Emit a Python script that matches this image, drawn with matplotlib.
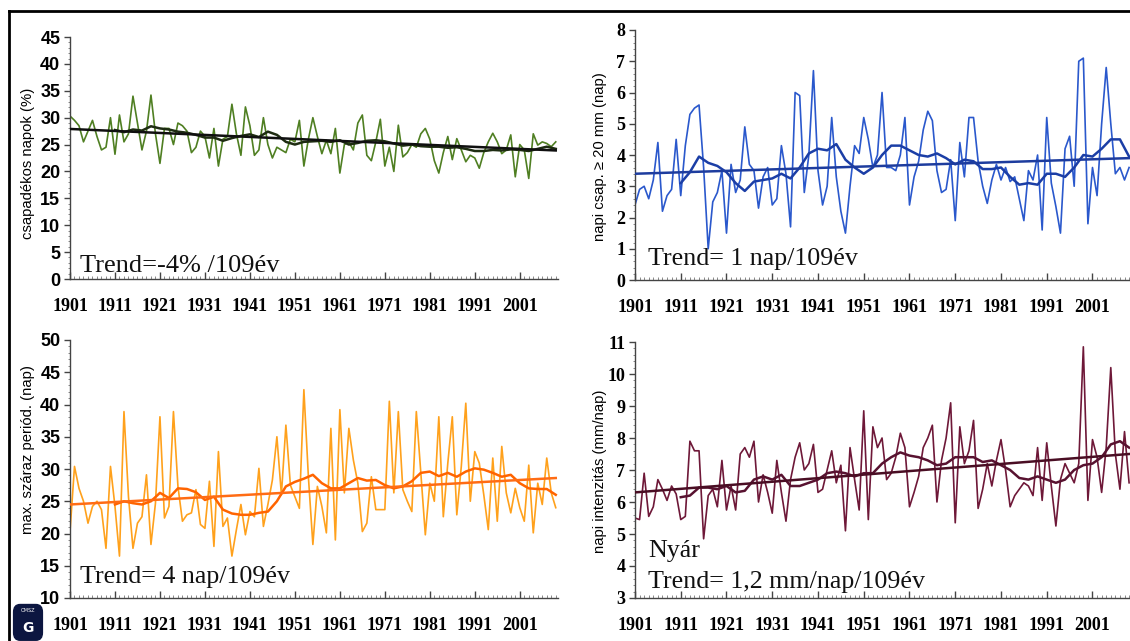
import numpy as np
import matplotlib
matplotlib.use("Agg")
import matplotlib.pyplot as plt
from matplotlib.lines import Line2D
from matplotlib.patches import FancyBboxPatch

years = list(range(1901, 2010))
smooth_years = list(range(1911, 2010, 2))

# csapadékos napok (%)
wet_days = [30.3, 29.5, 28.5, 25.5, 27.5, 29.5, 26.5, 24.0, 24.5, 30.0,
            23.2, 30.5, 25.5, 27.0, 34.0, 29.0, 24.0, 27.5, 34.2, 27.0,
            21.5, 28.0, 28.0, 25.0, 29.0, 28.5, 27.5, 23.5, 24.5, 27.5,
            26.5, 22.5, 28.0, 21.0, 26.0, 26.5, 32.5, 27.0, 23.0, 32.0,
            28.5, 23.0, 24.0, 30.0, 25.0, 22.5, 24.5, 24.0, 23.5, 26.0,
            25.5, 29.5, 21.0, 26.0, 30.0, 26.5, 23.3, 25.8, 23.3, 28.0,
            19.7, 25.0, 25.5, 24.0, 29.0, 30.5, 23.0, 22.0, 25.5, 29.7,
            21.0, 24.5, 20.0, 28.6, 22.7, 23.5, 25.0, 24.5, 27.0, 28.0,
            26.0, 22.0, 19.7, 23.5, 26.5, 22.2, 26.1, 24.0, 21.8, 23.0,
            22.5, 20.6, 23.5, 25.5, 27.1, 25.5, 23.3, 24.0, 26.8, 19.0,
            25.0, 24.0, 18.7, 27.0, 24.9, 25.5, 25.2, 24.6, 25.5]
wet_smooth = [27.7, 27.3, 27.8, 27.6, 28.4, 28.0, 27.8, 27.4, 27.2, 26.8,
              26.3, 26.3, 25.7, 26.2, 26.6, 26.9, 26.4, 27.4, 26.8, 25.5,
              25.0, 25.5, 25.6, 25.7, 25.5, 25.8, 25.0, 25.3, 25.7, 25.8,
              25.6, 25.2, 24.8, 25.0, 24.7, 24.6, 24.6, 24.4, 24.5, 24.2,
              23.8, 23.8, 24.0, 23.9, 24.1, 24.0, 23.8, 24.2, 24.6, 24.2]
wet_trend = [27.9, 23.9]

# napi csap. >= 20 mm (nap)
heavy_days = [2.4, 2.9, 3.0, 2.6, 3.2, 4.4, 2.2, 2.7, 2.9, 4.5,
              2.7, 4.3, 5.3, 5.5, 5.6, 3.6, 1.0, 2.5, 2.8, 3.5,
              1.5, 3.7, 2.8, 3.2, 4.9, 3.7, 3.5, 2.3, 3.3, 3.6,
              2.4, 2.6, 4.3, 3.4, 1.7, 6.0, 5.9, 2.8, 4.0, 6.7,
              3.5, 2.4, 3.0, 5.2, 3.3, 2.2, 1.5, 3.0, 4.3, 4.05,
              5.2, 4.5, 3.6, 4.0, 6.0, 3.6, 3.6, 3.5, 4.0, 5.2,
              2.4, 3.3, 3.8, 4.8, 5.4, 5.1, 3.5, 2.8, 2.9, 3.85,
              1.9, 4.4, 3.3, 5.2, 5.2, 3.8, 3.0, 2.45, 3.2, 3.7,
              3.2, 3.6, 3.15, 3.3, 2.6, 1.9, 3.5, 3.2, 4.0, 1.6,
              5.2, 3.1, 2.35, 1.5, 4.2, 4.6, 3.0, 7.0, 7.1, 1.8,
              3.6, 2.7, 5.0, 6.8, 5.0, 3.4, 3.6, 3.2, 3.6]
heavy_smooth = [3.1, 3.45, 3.95, 3.75, 3.65, 3.45, 3.1, 2.85, 3.15, 3.2,
                3.25, 3.4, 3.25, 3.6, 4.05, 4.2, 4.15, 4.35, 3.85, 3.6,
                3.4, 3.6, 4.0, 4.3, 4.3, 4.15, 4.0, 3.95, 4.05, 3.9,
                3.7, 3.85, 3.8, 3.55, 3.55, 3.6, 3.3, 3.05, 3.1, 3.05,
                3.4, 3.4, 3.3, 3.6, 4.0, 3.95, 4.2, 4.5, 4.5, 3.95]
heavy_trend = [3.4, 3.9]

# max. száraz periódus (nap)
dry_spell = [20.3, 30.4, 27.0, 25.0, 21.6, 24.2, 25.0, 23.7, 17.7, 30.4,
             24.2, 16.5, 38.9, 25.7, 17.7, 21.6, 22.6, 29.1, 18.3, 24.7,
             38.1, 22.4, 24.2, 38.9, 27.3, 21.9, 22.9, 23.2, 26.8, 21.4,
             20.8, 28.1, 18.0, 32.7, 21.1, 22.4, 16.5, 20.6, 24.5, 19.8,
             23.4, 22.6, 30.1, 21.1, 24.5, 28.3, 35.0, 26.0, 36.8, 27.5,
             25.7, 23.9, 42.3, 28.8, 18.3, 27.3, 24.2, 20.1, 36.3, 19.0,
             39.2, 26.3, 36.3, 31.4, 27.8, 20.3, 21.6, 28.8, 23.7, 23.7,
             23.7, 40.5, 26.3, 38.9, 26.8, 25.0, 23.4, 38.9, 29.4, 19.8,
             27.8, 25.0, 38.1, 22.6, 30.9, 38.1, 22.9, 30.4, 40.2, 25.0,
             32.7, 30.9, 26.0, 20.6, 31.7, 21.9, 33.5, 26.3, 23.2, 27.0,
             24.0, 21.9, 30.6, 20.1, 27.8, 24.5, 31.7, 26.3, 24.0]
dry_smooth = [24.5, 25.0, 24.7, 24.5, 25.0, 26.3, 25.5, 27.0, 26.9, 26.4,
              25.2, 25.7, 23.7, 23.1, 22.9, 22.9, 23.2, 23.4, 25.0, 27.3,
              28.0, 28.5, 29.1, 27.8, 27.0, 27.0, 27.8, 28.6, 28.2, 28.3,
              27.5, 27.0, 27.3, 28.1, 29.4, 29.6, 28.9, 29.4, 28.8, 29.6,
              30.1, 29.9, 29.4, 28.8, 29.1, 27.8, 27.0, 26.9, 26.9, 26.0]
dry_trend = [24.5, 28.6]

# napi intenzitás (mm/nap), nyár
intensity = [5.5, 5.45, 6.9, 5.55, 5.85, 6.7, 6.4, 6.05, 6.5, 6.25,
             5.45, 5.55, 7.9, 7.6, 7.6, 4.85, 6.2, 6.4, 5.85, 7.3,
             5.75, 6.5, 5.75, 7.5, 7.7, 7.4, 7.9, 6.0, 6.85, 6.3,
             5.65, 7.3, 6.3, 5.4, 6.7, 7.4, 7.85, 7.0, 7.2, 7.8,
             6.3, 6.4, 7.0, 7.6, 6.6, 7.15, 5.1, 7.7, 6.7, 5.75,
             8.85, 5.45, 8.35, 7.7, 8.0, 6.7, 6.9, 7.4, 8.15, 7.7,
             5.85, 6.3, 6.8, 7.7, 8.0, 8.4, 6.0, 7.3, 8.0, 9.1,
             5.35, 8.35, 7.2, 7.6, 8.55, 5.8, 6.4, 7.2, 6.5, 7.3,
             7.95, 7.0, 5.85, 6.2, 6.4, 6.6, 6.5, 6.2, 7.7, 6.05,
             7.85, 6.5, 5.25, 6.7, 7.2, 6.9, 6.6, 7.2, 10.85, 6.05,
             7.95, 7.4, 6.3, 7.7, 10.2, 7.5, 6.4, 8.2, 6.6]
int_smooth = [6.15, 6.2, 6.45, 6.45, 6.4, 6.5, 6.3, 6.35, 6.7, 6.8,
              6.7, 6.85, 6.5, 6.5, 6.6, 6.7, 6.9, 6.95, 6.9, 6.8,
              6.9, 6.9, 7.2, 7.4, 7.55, 7.45, 7.4, 7.3, 7.15, 7.2,
              7.4, 7.4, 7.4, 7.25, 7.3, 7.15, 7.0, 6.75, 6.7, 6.8,
              6.7, 6.6, 6.7, 7.0, 7.15, 7.2, 7.4, 7.8, 7.9, 7.7]
int_trend = [6.3, 7.5]

W, H = 1130, 641
fig = plt.figure(figsize=(W / 100, H / 100), dpi=100)


def px_axes(x0, x1, y_top, y_bot):
    return fig.add_axes([x0 / W, 1 - y_bot / H, (x1 - x0) / W, (y_bot - y_top) / H])


panels = [
    dict(box=(70, 558, 37, 279), data=wet_days, sm=wet_smooth, tr=wet_trend,
         c=('#4f7f22', '#1e2c12', '#101010'), ylim=(0, 45), step=5, xmax=2009.5,
         ylabel='csapadékos napok (%)', ylpos=(28, 163), yfont='Liberation Sans'),
    dict(box=(635, 1130, 30, 280), data=heavy_days, sm=heavy_smooth, tr=heavy_trend,
         c=('#2a58cc', '#1b3ea6', '#1d3c9e'), ylim=(0, 8), step=1, xmax=2009.2,
         ylabel='napi csap. ≥ 20 mm (nap)', ylpos=(600, 157), yfont='Liberation Serif'),
    dict(box=(70, 558, 340, 598), data=dry_spell, sm=dry_smooth, tr=dry_trend,
         c=('#ffa11c', '#ff6400', '#ff6c14'), ylim=(10, 50), step=5, xmax=2009.5,
         ylabel='max. száraz periód. (nap)', ylpos=(28, 450), yfont='Liberation Sans'),
    dict(box=(635, 1130, 342, 598), data=intensity, sm=int_smooth, tr=int_trend,
         c=('#6e1838', '#581230', '#4a0e24'), ylim=(3, 11), step=1, xmax=2009.2,
         ylabel='napi intenzitás (mm/nap)', ylpos=(600, 471), yfont='Liberation Serif'),
]

for p in panels:
    ax = px_axes(*p['box'])
    thin, smooth, trend = p['c']
    ax.plot(years, p['data'], color=thin, lw=1.2, solid_joinstyle='round', zorder=2)
    ax.plot(smooth_years, p['sm'], color=smooth, lw=1.8, solid_joinstyle='round', zorder=3)
    ax.plot([years[0], years[-1]], p['tr'], color=trend, lw=1.8, zorder=4)
    ax.set_xlim(1901, p['xmax'])
    ax.set_ylim(*p['ylim'])
    ax.set_xticks(range(1901, 2002, 10))
    ax.set_xticks(years, minor=True)
    ax.set_yticks(np.arange(p['ylim'][0], p['ylim'][1] + 0.01, p['step']))
    ax.set_yticks(np.arange(p['ylim'][0], p['ylim'][1] + 0.01, p['step'] / 5), minor=True)
    for s in ['top', 'right']:
        ax.spines[s].set_visible(False)
    for s in ['left', 'bottom']:
        ax.spines[s].set_color('#444444')
        ax.spines[s].set_linewidth(1.0)
    ax.tick_params(axis='x', which='major', direction='in', length=5, width=1,
                   color='#444444', pad=14)
    ax.tick_params(axis='x', which='minor', direction='in', length=2, width=0.6,
                   color='#777777')
    ax.tick_params(axis='y', which='major', direction='out', length=4, width=1,
                   color='#444444', pad=3)
    ax.tick_params(axis='y', which='minor', direction='out', length=1.5, width=0.6,
                   color='#777777')
    for lab in ax.get_xticklabels():
        lab.set_fontfamily('Liberation Serif')
        lab.set_fontweight('bold')
        lab.set_fontsize(13)
    ylabs = [str(int(v)) for v in ax.get_yticks()]
    ax.set_yticklabels(ylabs, fontfamily=p['yfont'], fontweight='bold', fontsize=13)
    ax.patch.set_alpha(0)
    fig.text(p['ylpos'][0] / W, 1 - p['ylpos'][1] / H, p['ylabel'], rotation=90,
             ha='center', va='center', fontsize=10.7, family='Liberation Sans')

serif = dict(family='Liberation Serif', color='#111111')
fig.text(80 / W, 1 - 272 / H, 'Trend=-4% /109év', va='baseline', fontsize=19, **serif)
fig.text(648 / W, 1 - 265 / H, 'Trend= 1 nap/109év', va='baseline', fontsize=18.7, **serif)
fig.text(80 / W, 1 - 583 / H, 'Trend= 4 nap/109év', va='baseline', fontsize=18.7, **serif)
fig.text(648 / W, 1 - 557 / H, 'Nyár', va='baseline', fontsize=18.7, **serif)
fig.text(648 / W, 1 - 588 / H, 'Trend= 1,2 mm/nap/109év', va='baseline', fontsize=18.7, **serif)

# outer frame (top and left edges)
fig.add_artist(Line2D([9 / W, 9 / W], [0, 1 - 11 / H], color='black', lw=2))
fig.add_artist(Line2D([9 / W, 1], [1 - 11 / H, 1 - 11 / H], color='black', lw=2))

# small logo
lax = fig.add_axes([12 / W, 0, 32 / W, 38 / H])
lax.axis('off')
lax.set_xlim(0, 1)
lax.set_ylim(0, 1)
lax.add_patch(FancyBboxPatch((0.05, 0.02), 0.9, 0.94, boxstyle='round,pad=0,rounding_size=0.2',
                             fc='#0c1640', ec='#0c1640'))
lax.text(0.5, 0.8, 'OMSZ', color='white', fontsize=3.5, ha='center', va='center')
lax.text(0.5, 0.35, 'G', color='white', fontsize=10, fontweight='bold', ha='center', va='center')

fig.savefig('out.png', dpi=100)
